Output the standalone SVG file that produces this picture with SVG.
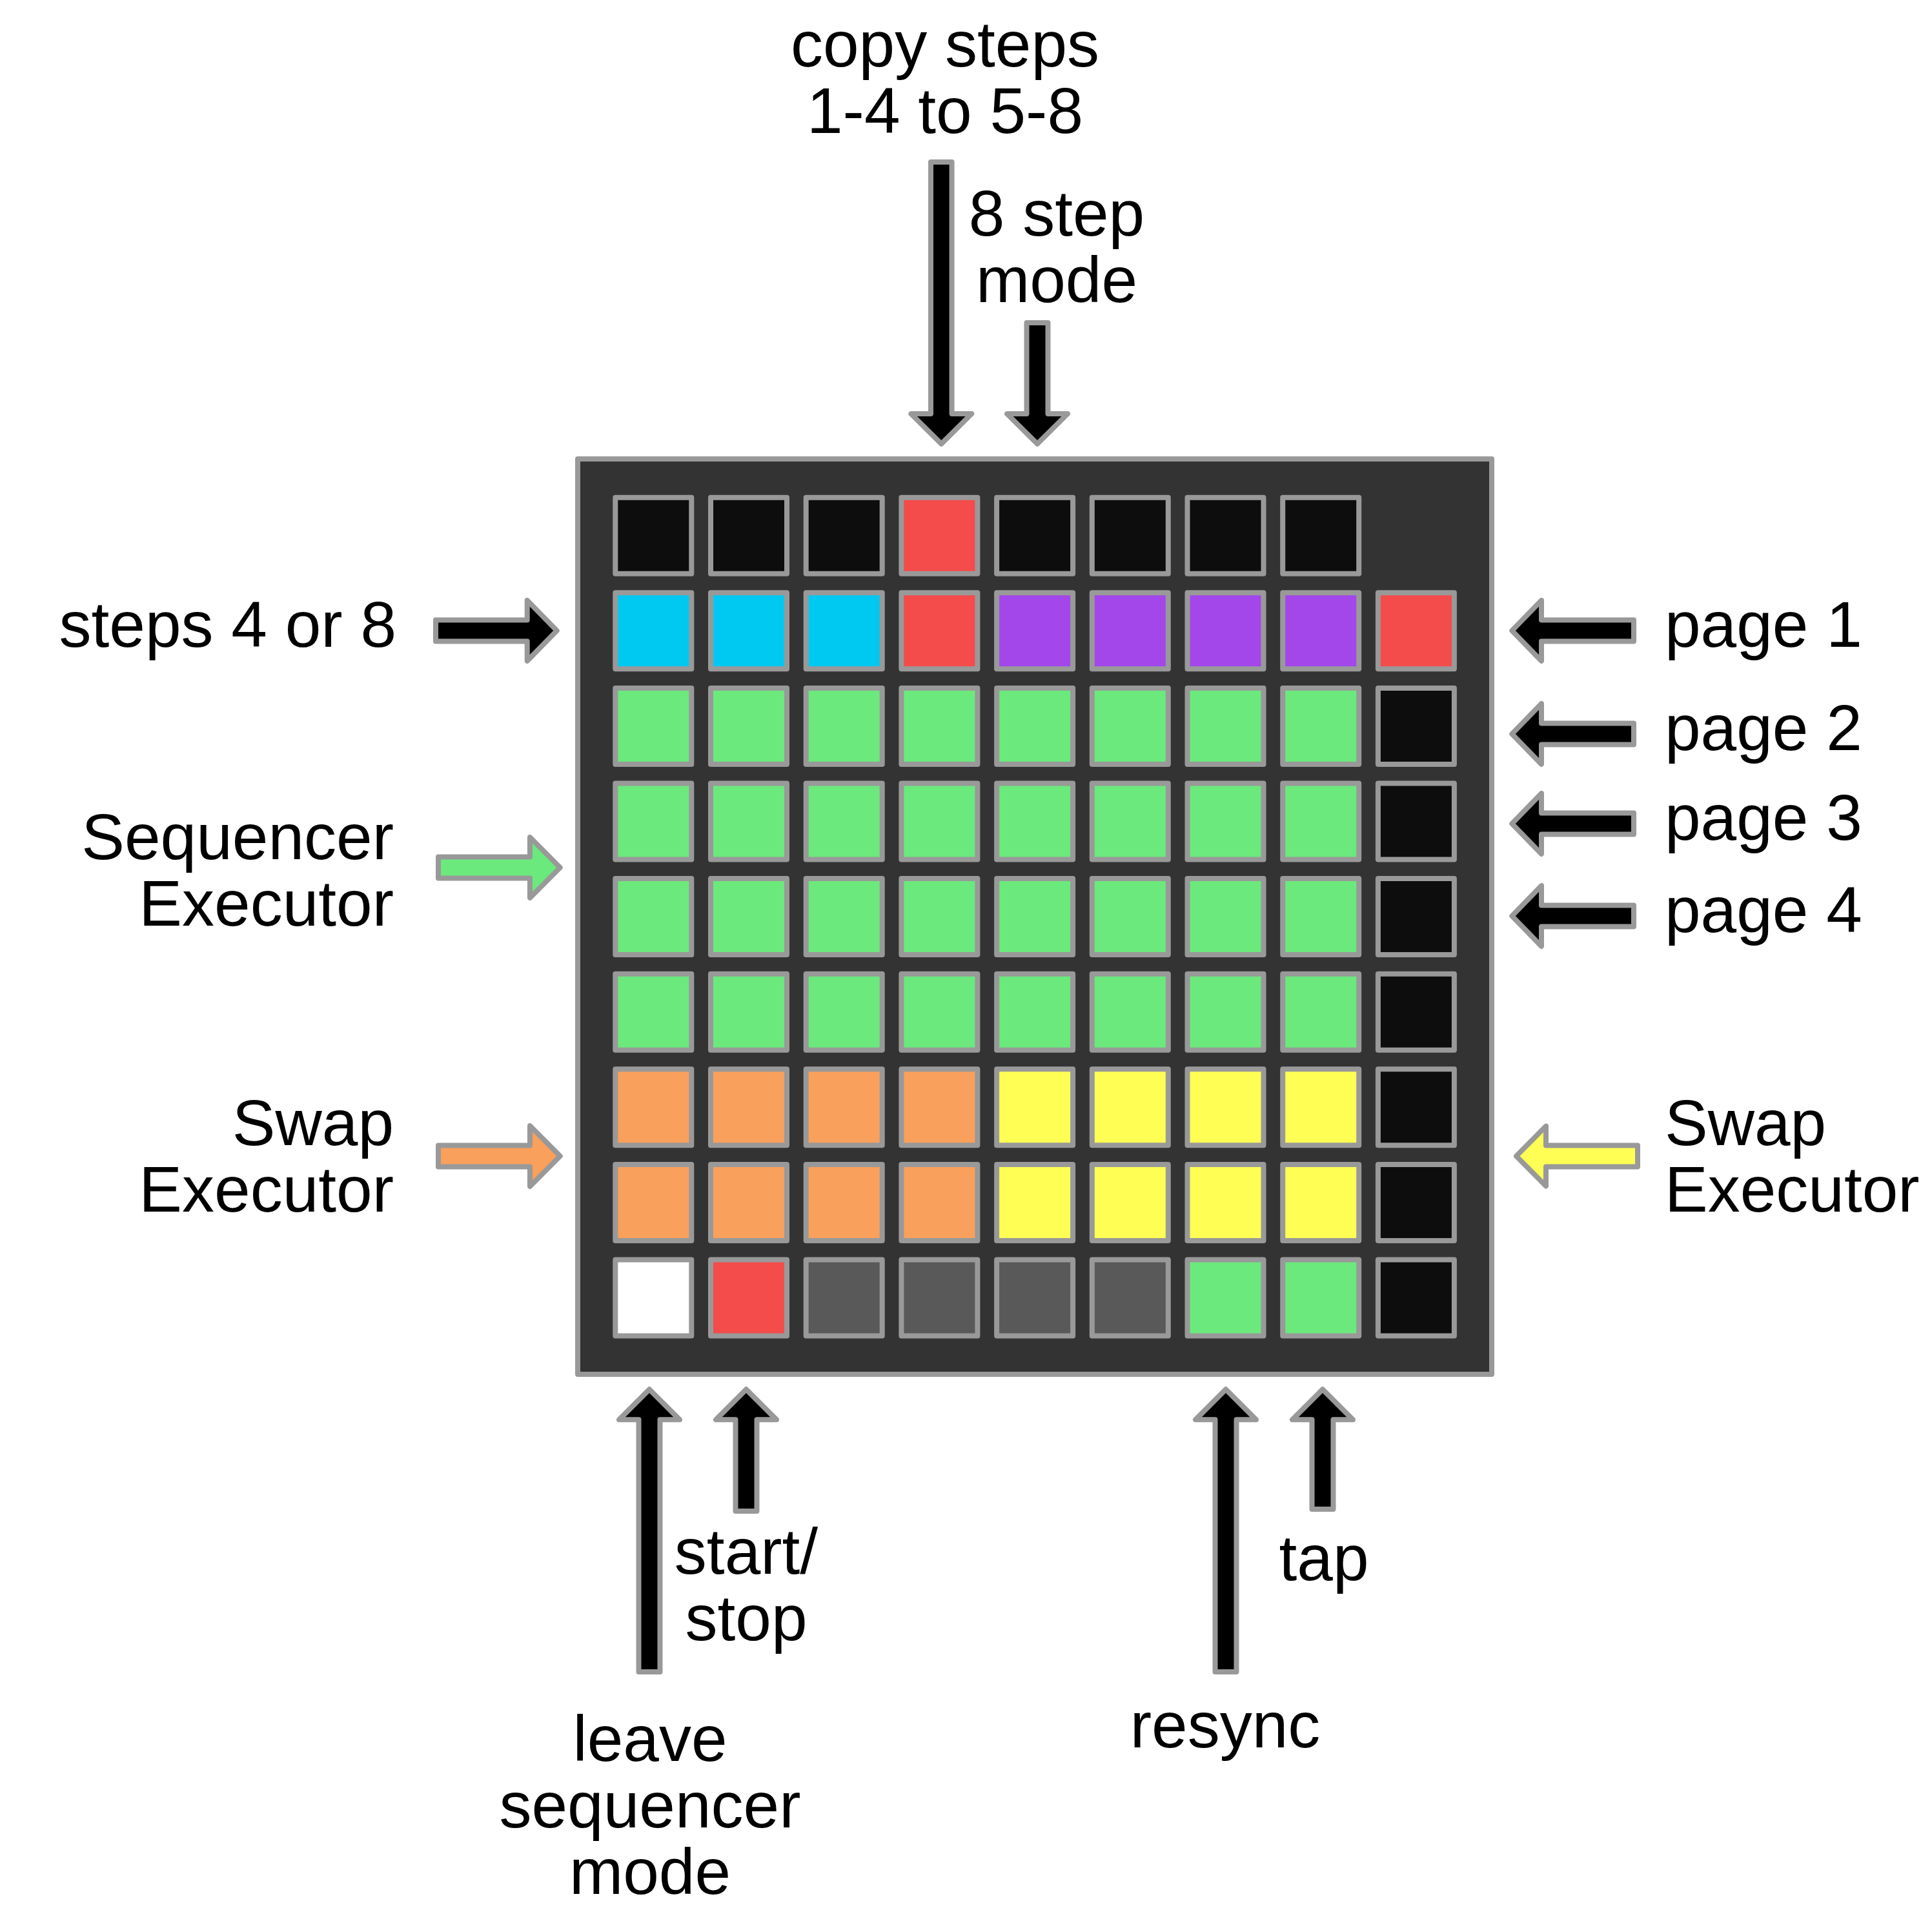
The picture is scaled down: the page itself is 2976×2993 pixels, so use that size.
<svg xmlns="http://www.w3.org/2000/svg" width="2976" height="2993" viewBox="0 0 2976 2993">
<style>
  .lbl{font-family:"Liberation Sans",Arial,sans-serif;font-size:100px;fill:#000}
  .e{text-anchor:end}.m{text-anchor:middle}.s{text-anchor:start}
  .board{fill:#333333;stroke:#999999;stroke-width:8;stroke-linejoin:round}
  .pad{stroke:#999999;stroke-width:8;stroke-linejoin:round}
  .k{fill:#0d0d0d}.r{fill:#f44b4b}.c{fill:#00c9f1}.p{fill:#a347ea}.g{fill:#6be97c}
  .o{fill:#f9a05c}.y{fill:#fefe54}.d{fill:#595959}.w{fill:#ffffff}
  .arr{stroke:#999999;stroke-width:8;stroke-linejoin:round}
  .ab{fill:#000000}
</style>
<rect width="2976" height="2993" fill="#ffffff"/>
<g id="board">
  <rect class="board" x="895" y="711" width="1416" height="1418"/>
  <g id="row0">
    <rect class="pad k" x="953.3" y="770.7" width="118" height="118"/>
    <rect class="pad k" x="1101" y="770.7" width="118" height="118"/>
    <rect class="pad k" x="1248.7" y="770.7" width="118" height="118"/>
    <rect class="pad r" x="1396.4" y="770.7" width="118" height="118"/>
    <rect class="pad k" x="1544.1" y="770.7" width="118" height="118"/>
    <rect class="pad k" x="1691.8" y="770.7" width="118" height="118"/>
    <rect class="pad k" x="1839.5" y="770.7" width="118" height="118"/>
    <rect class="pad k" x="1987.2" y="770.7" width="118" height="118"/>
  </g>
  <g id="row1">
    <rect class="pad c" x="953.3" y="918.3" width="118" height="118"/>
    <rect class="pad c" x="1101" y="918.3" width="118" height="118"/>
    <rect class="pad c" x="1248.7" y="918.3" width="118" height="118"/>
    <rect class="pad r" x="1396.4" y="918.3" width="118" height="118"/>
    <rect class="pad p" x="1544.1" y="918.3" width="118" height="118"/>
    <rect class="pad p" x="1691.8" y="918.3" width="118" height="118"/>
    <rect class="pad p" x="1839.5" y="918.3" width="118" height="118"/>
    <rect class="pad p" x="1987.2" y="918.3" width="118" height="118"/>
    <rect class="pad r" x="2134.9" y="918.3" width="118" height="118"/>
  </g>
  <g id="row2">
    <rect class="pad g" x="953.3" y="1065.9" width="118" height="118"/>
    <rect class="pad g" x="1101" y="1065.9" width="118" height="118"/>
    <rect class="pad g" x="1248.7" y="1065.9" width="118" height="118"/>
    <rect class="pad g" x="1396.4" y="1065.9" width="118" height="118"/>
    <rect class="pad g" x="1544.1" y="1065.9" width="118" height="118"/>
    <rect class="pad g" x="1691.8" y="1065.9" width="118" height="118"/>
    <rect class="pad g" x="1839.5" y="1065.9" width="118" height="118"/>
    <rect class="pad g" x="1987.2" y="1065.9" width="118" height="118"/>
    <rect class="pad k" x="2134.9" y="1065.9" width="118" height="118"/>
  </g>
  <g id="row3">
    <rect class="pad g" x="953.3" y="1213.5" width="118" height="118"/>
    <rect class="pad g" x="1101" y="1213.5" width="118" height="118"/>
    <rect class="pad g" x="1248.7" y="1213.5" width="118" height="118"/>
    <rect class="pad g" x="1396.4" y="1213.5" width="118" height="118"/>
    <rect class="pad g" x="1544.1" y="1213.5" width="118" height="118"/>
    <rect class="pad g" x="1691.8" y="1213.5" width="118" height="118"/>
    <rect class="pad g" x="1839.5" y="1213.5" width="118" height="118"/>
    <rect class="pad g" x="1987.2" y="1213.5" width="118" height="118"/>
    <rect class="pad k" x="2134.9" y="1213.5" width="118" height="118"/>
  </g>
  <g id="row4">
    <rect class="pad g" x="953.3" y="1361.1" width="118" height="118"/>
    <rect class="pad g" x="1101" y="1361.1" width="118" height="118"/>
    <rect class="pad g" x="1248.7" y="1361.1" width="118" height="118"/>
    <rect class="pad g" x="1396.4" y="1361.1" width="118" height="118"/>
    <rect class="pad g" x="1544.1" y="1361.1" width="118" height="118"/>
    <rect class="pad g" x="1691.8" y="1361.1" width="118" height="118"/>
    <rect class="pad g" x="1839.5" y="1361.1" width="118" height="118"/>
    <rect class="pad g" x="1987.2" y="1361.1" width="118" height="118"/>
    <rect class="pad k" x="2134.9" y="1361.1" width="118" height="118"/>
  </g>
  <g id="row5">
    <rect class="pad g" x="953.3" y="1508.7" width="118" height="118"/>
    <rect class="pad g" x="1101" y="1508.7" width="118" height="118"/>
    <rect class="pad g" x="1248.7" y="1508.7" width="118" height="118"/>
    <rect class="pad g" x="1396.4" y="1508.7" width="118" height="118"/>
    <rect class="pad g" x="1544.1" y="1508.7" width="118" height="118"/>
    <rect class="pad g" x="1691.8" y="1508.7" width="118" height="118"/>
    <rect class="pad g" x="1839.5" y="1508.7" width="118" height="118"/>
    <rect class="pad g" x="1987.2" y="1508.7" width="118" height="118"/>
    <rect class="pad k" x="2134.9" y="1508.7" width="118" height="118"/>
  </g>
  <g id="row6">
    <rect class="pad o" x="953.3" y="1656.3" width="118" height="118"/>
    <rect class="pad o" x="1101" y="1656.3" width="118" height="118"/>
    <rect class="pad o" x="1248.7" y="1656.3" width="118" height="118"/>
    <rect class="pad o" x="1396.4" y="1656.3" width="118" height="118"/>
    <rect class="pad y" x="1544.1" y="1656.3" width="118" height="118"/>
    <rect class="pad y" x="1691.8" y="1656.3" width="118" height="118"/>
    <rect class="pad y" x="1839.5" y="1656.3" width="118" height="118"/>
    <rect class="pad y" x="1987.2" y="1656.3" width="118" height="118"/>
    <rect class="pad k" x="2134.9" y="1656.3" width="118" height="118"/>
  </g>
  <g id="row7">
    <rect class="pad o" x="953.3" y="1803.9" width="118" height="118"/>
    <rect class="pad o" x="1101" y="1803.9" width="118" height="118"/>
    <rect class="pad o" x="1248.7" y="1803.9" width="118" height="118"/>
    <rect class="pad o" x="1396.4" y="1803.9" width="118" height="118"/>
    <rect class="pad y" x="1544.1" y="1803.9" width="118" height="118"/>
    <rect class="pad y" x="1691.8" y="1803.9" width="118" height="118"/>
    <rect class="pad y" x="1839.5" y="1803.9" width="118" height="118"/>
    <rect class="pad y" x="1987.2" y="1803.9" width="118" height="118"/>
    <rect class="pad k" x="2134.9" y="1803.9" width="118" height="118"/>
  </g>
  <g id="row8">
    <rect class="pad w" x="953.3" y="1951.5" width="118" height="118"/>
    <rect class="pad r" x="1101" y="1951.5" width="118" height="118"/>
    <rect class="pad d" x="1248.7" y="1951.5" width="118" height="118"/>
    <rect class="pad d" x="1396.4" y="1951.5" width="118" height="118"/>
    <rect class="pad d" x="1544.1" y="1951.5" width="118" height="118"/>
    <rect class="pad d" x="1691.8" y="1951.5" width="118" height="118"/>
    <rect class="pad g" x="1839.5" y="1951.5" width="118" height="118"/>
    <rect class="pad g" x="1987.2" y="1951.5" width="118" height="118"/>
    <rect class="pad k" x="2134.9" y="1951.5" width="118" height="118"/>
  </g>
</g>
<g id="connectors">
  <path class="arr ab" d="M1442,251 H1474.6 V641 H1505.3 L1458.3,687.7 L1411.3,641 H1442 Z"/>
  <path class="arr ab" d="M1590.5,500 H1623.5 V641 H1654 L1607,687.7 L1560,641 H1590.5 Z"/>
  <path class="arr ab" d="M675,960.5 H816.7 V930 L862.7,977 L816.7,1024 V993.5 H675 Z"/>
  <path class="arr g" d="M679,1327.5 H821 V1297 L867.7,1344 L821,1391 V1360.5 H679 Z"/>
  <path class="arr o" d="M679,1774.5 H821 V1744 L867.7,1791 L821,1838 V1807.5 H679 Z"/>
  <path class="arr ab" d="M2531,960.5 H2388 V930 L2342.3,977 L2388,1024 V993.5 H2531 Z"/>
  <path class="arr ab" d="M2531,1120.5 H2388 V1090 L2342.3,1137 L2388,1184 V1153.5 H2531 Z"/>
  <path class="arr ab" d="M2531,1259.5 H2388 V1229 L2342.3,1276 L2388,1323 V1292.5 H2531 Z"/>
  <path class="arr ab" d="M2531,1402.5 H2388 V1372 L2342.3,1419 L2388,1466 V1435.5 H2531 Z"/>
  <path class="arr y" d="M2537,1774.5 H2395 V1744.5 L2349,1791 L2395,1837.5 V1807.5 H2537 Z"/>
  <path class="arr ab" d="M989.5,2590 H1022.5 V2199.3 H1053 L1006,2152.3 L959,2199.3 H989.5 Z"/>
  <path class="arr ab" d="M1139.5,2341 H1172.5 V2199.3 H1203 L1156,2152.3 L1109,2199.3 H1139.5 Z"/>
  <path class="arr ab" d="M1882.5,2590 H1915.5 V2199.3 H1946 L1899,2152.3 L1852,2199.3 H1882.5 Z"/>
  <path class="arr ab" d="M2032.5,2338 H2065.5 V2199.3 H2096 L2049,2152.3 L2002,2199.3 H2032.5 Z"/>
</g>
<g id="label-copy"><text class="lbl m" x="1464" y="103">copy steps</text><text class="lbl m" x="1464" y="206">1-4 to 5-8</text></g>
<g id="label-8step"><text class="lbl m" x="1637" y="365">8 step</text><text class="lbl m" x="1637" y="468">mode</text></g>
<g id="label-steps"><text class="lbl e" x="614" y="1002">steps 4 or 8</text></g>
<g id="label-seq"><text class="lbl e" x="610" y="1331">Sequencer</text><text class="lbl e" x="610" y="1434">Executor</text></g>
<g id="label-swapL"><text class="lbl e" x="610" y="1774">Swap</text><text class="lbl e" x="610" y="1877">Executor</text></g>
<g id="label-page1"><text class="lbl s" x="2579" y="1002">page 1</text></g>
<g id="label-page2"><text class="lbl s" x="2579" y="1162">page 2</text></g>
<g id="label-page3"><text class="lbl s" x="2579" y="1301">page 3</text></g>
<g id="label-page4"><text class="lbl s" x="2579" y="1444">page 4</text></g>
<g id="label-swapR"><text class="lbl s" x="2579" y="1774">Swap</text><text class="lbl s" x="2579" y="1877">Executor</text></g>
<g id="label-startstop"><text class="lbl m" x="1156" y="2438">start/</text><text class="lbl m" x="1156" y="2541">stop</text></g>
<g id="label-tap"><text class="lbl m" x="2051" y="2448">tap</text></g>
<g id="label-resync"><text class="lbl m" x="1898" y="2707">resync</text></g>
<g id="label-leave"><text class="lbl m" x="1007" y="2728">leave</text><text class="lbl m" x="1007" y="2831">sequencer</text><text class="lbl m" x="1007" y="2934">mode</text></g>
</svg>
